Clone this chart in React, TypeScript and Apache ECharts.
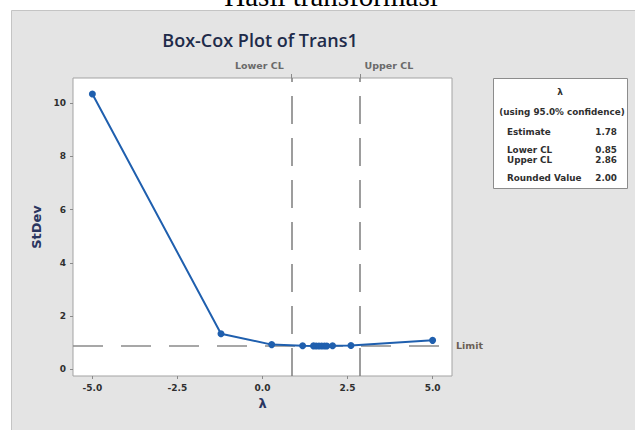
import React, { useEffect, useRef } from "react";
import * as echarts from "echarts";

const lambdaValues = [-5, -1.22, 0.27, 1.18, 1.5, 1.58, 1.66, 1.74, 1.82, 1.89, 2.06, 2.6, 5];
const stdevValues = [10.35, 1.34, 0.93, 0.89, 0.882, 0.88, 0.879, 0.878, 0.879, 0.88, 0.885, 0.895, 1.09];
const xTicks = [-5, -2.5, 0, 2.5, 5];
const yTicks = [0, 2, 4, 6, 8, 10];
const ciLabels = ["Lower CL", "Upper CL"];
const ciValues = [0.85, 2.86];
const limitValue = 0.9;
const tableLabels = ["Estimate", "Lower CL", "Upper CL", "Rounded Value"];
const tableValues = ["1.78", "0.85", "2.86", "2.00"];
const tableRowsY = [132, 150, 160, 178];

const SMALL = '"DejaVu Sans", "Noto Sans", sans-serif';
const BIG = '"Open Sans", "Noto Sans", sans-serif';
const TXT = "#2f2f2f";

export default function App() {
  const ref = useRef<HTMLDivElement>(null);
  useEffect(() => {
    if (!ref.current) return;
    const chart = echarts.init(ref.current, undefined, { renderer: "svg" });
    const tableEls: any[] = [
      {
        type: "rect",
        shape: { x: 493.5, y: 78.5, width: 134, height: 110 },
        style: { fill: "#ffffff", stroke: "#8c8c8c", lineWidth: 1 },
      },
      {
        type: "text",
        x: 560,
        y: 92,
        style: { text: "λ", font: `bold 9px ${SMALL}`, fill: TXT, align: "center", verticalAlign: "middle" },
      },
      {
        type: "text",
        x: 562,
        y: 112,
        style: {
          text: "(using 95.0% confidence)",
          font: `bold 8.8px ${SMALL}`,
          fill: TXT,
          align: "center",
          verticalAlign: "middle",
        },
      },
    ];
    tableLabels.forEach((lab, i) => {
      tableEls.push({
        type: "text",
        x: 507,
        y: tableRowsY[i],
        style: { text: lab, font: `bold 8.8px ${SMALL}`, fill: TXT, align: "left", verticalAlign: "middle" },
      });
      tableEls.push({
        type: "text",
        x: 617,
        y: tableRowsY[i],
        style: { text: tableValues[i], font: `bold 8.8px ${SMALL}`, fill: TXT, align: "right", verticalAlign: "middle" },
      });
    });

    const option: any = {
      animation: false,
      backgroundColor: "#ffffff",
      graphic: [
        {
          type: "rect",
          z: -100,
          silent: true,
          shape: { x: 11.5, y: 10.5, width: 700, height: 500 },
          style: { fill: "#e4e4e4", stroke: "#c4c4c4", lineWidth: 1 },
        },
        {
          type: "text",
          x: 331,
          y: -4,
          style: {
            text: "Hasil transformasi",
            font: '29px "Liberation Serif", "DejaVu Serif", serif',
            fill: "#000000",
            align: "center",
            verticalAlign: "middle",
          },
        },
        {
          type: "text",
          x: 260,
          y: 40,
          style: {
            text: "Box-Cox Plot of Trans1",
            font: `600 18px ${BIG}`,
            fill: "#1e2b4a",
            align: "center",
            verticalAlign: "middle",
          },
        },
        { type: "group", children: tableEls },
      ],
      grid: {
        left: 73,
        top: 78,
        right: 183,
        bottom: 54,
        show: true,
        backgroundColor: "#ffffff",
        borderColor: "#a3a3a3",
        borderWidth: 1,
      },
      xAxis: [
        {
          type: "value",
          min: -5.57,
          max: 5.57,
          name: "λ",
          nameLocation: "middle",
          nameGap: 21,
          nameTextStyle: { fontFamily: SMALL, fontSize: 13, fontWeight: "bold", color: "#2a3560" },
          axisLine: { show: false, onZero: false },
          splitLine: { show: false },
          axisTick: { show: true, customValues: xTicks, length: 3, lineStyle: { color: "#8a8a8a" } },
          axisLabel: {
            customValues: xTicks,
            formatter: (v: number) => v.toFixed(1),
            margin: 7,
            fontFamily: SMALL,
            fontSize: 9,
            fontWeight: "bold",
            color: TXT,
          },
        },
        {
          type: "value",
          position: "top",
          min: -5.57,
          max: 5.57,
          axisLine: { show: false, onZero: false },
          splitLine: { show: false },
          axisTick: { show: true, customValues: ciValues, length: 4, lineStyle: { color: "#8a8a8a" } },
          axisLabel: {
            customValues: ciValues,
            margin: 8,
            formatter: (v: number) =>
              Math.abs(v - ciValues[0]) < Math.abs(v - ciValues[1])
                ? `{l|${ciLabels[0]}}`
                : `{u|${ciLabels[1]}}`,
            rich: {
              l: { padding: [0, 64, 0, 0], fontFamily: SMALL, fontSize: 9.5, fontWeight: "bold", color: "#6a6a6a" },
              u: { padding: [0, 0, 0, 58], fontFamily: SMALL, fontSize: 9.5, fontWeight: "bold", color: "#6a6a6a" },
            },
          },
        },
      ],
      yAxis: {
        type: "value",
        min: -0.25,
        max: 10.95,
        name: "StDev",
        nameLocation: "middle",
        nameGap: 29,
        nameTextStyle: { fontFamily: SMALL, fontSize: 13, fontWeight: "bold", color: "#2a3560" },
        axisLine: { show: false, onZero: false },
        splitLine: { show: false },
        axisTick: { show: true, customValues: yTicks, length: 3, lineStyle: { color: "#8a8a8a" } },
        axisLabel: {
          customValues: yTicks,
          margin: 7,
          fontFamily: SMALL,
          fontSize: 9,
          fontWeight: "bold",
          color: TXT,
        },
      },
      series: [
        {
          type: "line",
          xAxisIndex: 0,
          data: lambdaValues.map((x, i) => [x, stdevValues[i]]),
          symbol: "circle",
          symbolSize: 7,
          itemStyle: { color: "#1f5fae" },
          lineStyle: { color: "#1f5fae", width: 2 },
          z: 5,
          markLine: {
            silent: true,
            symbol: "none",
            animation: false,
            label: { show: false },
            lineStyle: { color: "#7d7d7d", type: [28, 14], width: 1.5 },
            data: [
              { xAxis: ciValues[0] },
              { xAxis: ciValues[1] },
              {
                yAxis: limitValue,
                lineStyle: { color: "#8a8a8a", type: [30, 18], width: 1.5 },
                label: {
                  show: true,
                  position: "end",
                  formatter: "Limit",
                  distance: 4,
                  fontFamily: SMALL,
                  fontSize: 9.5,
                  fontWeight: "bold",
                  color: "#6b5f55",
                },
              },
            ],
          },
        },
      ],
    };
    chart.setOption(option);
    return () => chart.dispose();
  }, []);
  return (
    <div style={{ position: "fixed", left: 0, top: 0, width: 635, height: 430, background: "#fff" }}>
      <div ref={ref} style={{ width: 635, height: 430 }} />
    </div>
  );
}
